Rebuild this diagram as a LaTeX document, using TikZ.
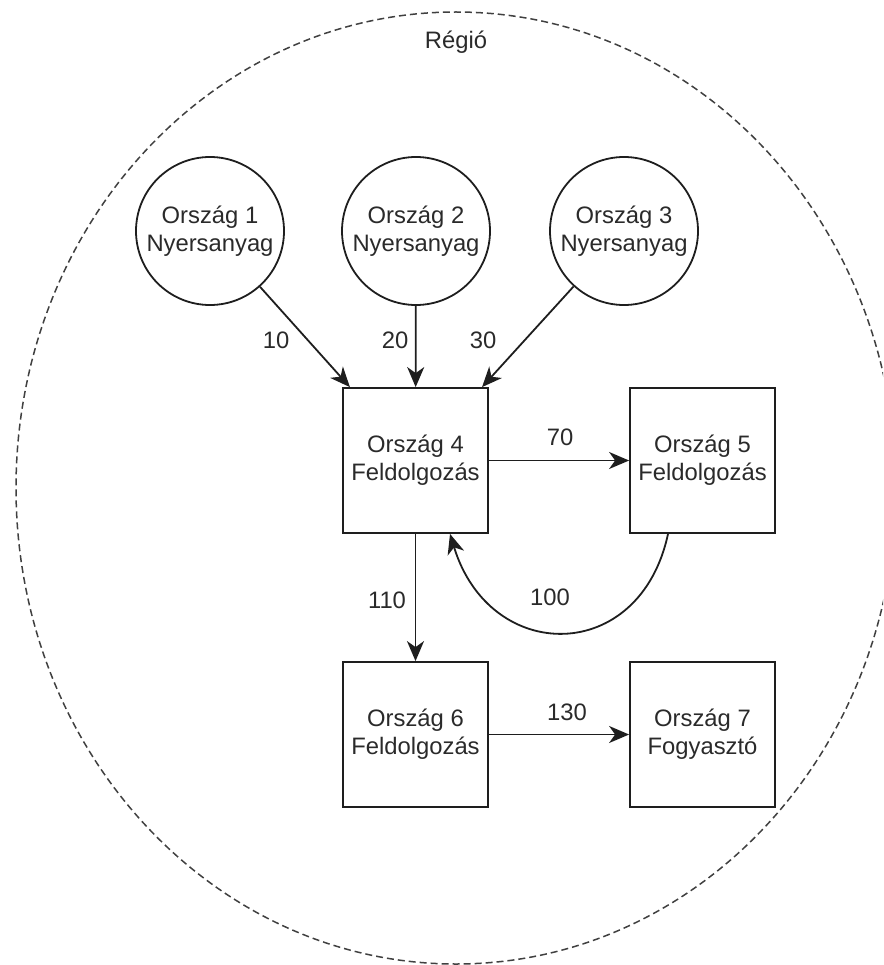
\documentclass[tikz,border=0pt]{standalone}
\usepackage{fontspec}
\setmainfont{Liberation Sans}
\usetikzlibrary{arrows.meta}
\definecolor{ink}{HTML}{1E1E1E}
\definecolor{txt}{HTML}{2A2A2A}
\tikzset{
  txtfont/.style={font=\fontsize{23.8}{28}\selectfont, text=txt},
  country/.style={draw=ink, line width=1.8pt, circle, minimum size=148pt,
    inner sep=0pt, align=center, txtfont},
  stage/.style={draw=ink, line width=1.8pt, rectangle, minimum width=145pt,
    minimum height=145pt, inner sep=0pt, align=center, txtfont},
  flow/.style={draw=ink, line width=1.8pt,
    -{Stealth[length=20pt, width=17pt, inset=6pt]}},
  qty/.style={txtfont, inner sep=0pt},
  region/.style={draw=ink!85, line width=1.5pt, dash pattern=on 7pt off 4pt}
}
\begin{document}
\begin{tikzpicture}[x=1pt, y=-1pt]
  \useasboundingbox (0,0) rectangle (883,965);
  \clip (0,0) rectangle (883,965);

  % region boundary
  \draw[region] (456,488) ellipse [x radius=440pt, y radius=476pt];
  \node[qty] (regio) at (456,42) {Régió};

  % raw material countries
  \node[country] (c1) at (210,231) {Ország 1\\Nyersanyag};
  \node[country] (c2) at (416,231) {Ország 2\\Nyersanyag};
  \node[country] (c3) at (624,231) {Ország 3\\Nyersanyag};

  % processing and consumer countries
  \node[stage] (b4) at (415.5,460.5) {Ország 4\\Feldolgozás};
  \node[stage] (b5) at (702.5,460.5) {Ország 5\\Feldolgozás};
  \node[stage] (b6) at (415.5,734.5) {Ország 6\\Feldolgozás};
  \node[stage] (b7) at (702.5,734.5) {Ország 7\\Fogyasztó};

  % flows
  \draw[flow] (c1) -- (b4);
  \draw[flow] (c2) -- (b4);
  \draw[flow] (c3) -- (b4);
  \draw[flow] (b4) -- (b5);
  \draw[flow] (b4) -- (b6);
  \draw[flow] (b6) -- (b7);
  \coordinate (r5) at ([xshift=-34.5pt]b5.south);
  \coordinate (r4) at ([xshift=34.5pt]b4.south);
  \draw[flow] (r5) .. controls (640,665) and (490,665) .. (r4);

  % quantities
  \node[qty] (l10) at (276,340) {10};
  \node[qty] (l20) at (395,340) {20};
  \node[qty] (l30) at (483,340) {30};
  \node[qty] (l70) at (560,437) {70};
  \node[qty] (l110) at (387,600) {110};
  \node[qty] (l100) at (550,597) {100};
  \node[qty] (l130) at (567,712) {130};
\end{tikzpicture}
\end{document}
